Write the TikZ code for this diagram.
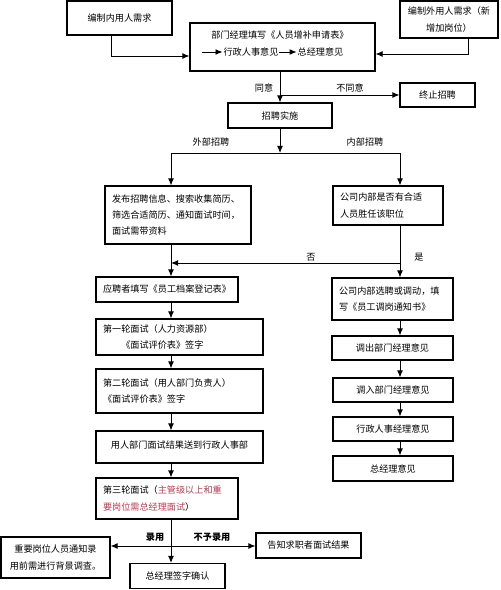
\documentclass[tikz,border=0pt]{standalone}
\usepackage{fontspec}
\setmainfont{Noto Sans CJK SC}
\usepackage{tikz}
\usetikzlibrary{arrows.meta}
\definecolor{noteRed}{RGB}{185,60,80}

\begin{document}
\begin{tikzpicture}[x=0.03cm, y=-0.03cm, >={Latex[length=6pt,width=5pt]}, line width=0.8pt,
    every node/.style={font=\fontsize{7.8pt}{14pt}\selectfont},
    box/.style n args={2}{draw, line width=0.9pt, inner xsep=7*\px, inner ysep=0pt,
      align=center, minimum width=#1*\px, minimum height=#2*\px},
    lbox/.style n args={2}{box={#1}{#2}, align=left, text width=(#1-14)*\px},
    lab/.style={inner sep=1pt}]
    \def \px {0.03cm} % one pixel of the 500x590 sheet
    \useasboundingbox (0,0) rectangle (500,590);

    % top row
    \node[box={105}{34}] (neizhi) at (119.5,18) {编制内用人需求};
    \node[box={98}{37}] (waizhi) at (449,19.5) {编制外用人需求（新\\增加岗位）};
    \node[box={185}{48}] (shenqing) at (282.5,47) {};
    \node[lab] (sqtext) at (280,35) {部门经理填写《人员增补申请表》};
    \node[inner sep=0.5pt] (xzyj) at (251,52) {行政人事意见};
    \node[inner sep=0.5pt] (zjyj) at (320.5,52) {总经理意见};
    \coordinate (sqin) at (202,52);
    \draw[->] (sqin) -- (xzyj);
    \draw[->] (xzyj) -- (zjyj);

    \draw[->] ([xshift=-8.5*\px]neizhi.south) |- ([yshift=-9*\px]shenqing.west);
    \draw[->] ([xshift=19*\px]waizhi.south) |- ([yshift=-7*\px]shenqing.east);

    \node[box={75}{24}] (zhongzhi) at (437.5,95) {终止招聘};
    \node[box={104}{25}] (zhaopin) at (280,115.5) {招聘实施};
    \coordinate (fork) at (280,95);
    \draw[->] (shenqing.south -| zhaopin.north) -- (zhaopin.north);
    \draw[->] (fork) -- (zhongzhi.west);
    \node[lab] at (264,88) {同意};
    \node[lab] at (350,88) {不同意};

    % two columns
    \coordinate (lx) at (171,0);
    \coordinate (rx) at (400,0);
    \coordinate (split) at (280,153);
    \node[lbox={146}{58}] (fabu) at (178,215)
      {发布招聘信息、搜索收集简历、\\筛选合适简历、通知面试时间，\\面试需带资料};
    \node[lbox={110}{39}] (neibu) at (388,205.5) {公司内部是否有合适\\人员胜任该职位};
    \draw[->] (zhaopin.south) -- (split);
    \draw[->] (split) -| (lx |- fabu.north);
    \draw[->] (split) -| (rx |- neibu.north);
    \node[lab] at (211,142) {外部招聘};
    \node[lab] at (365,142) {内部招聘};

    % external side
    \node[box={142}{25}] (yingpin) at (167,289.5) {应聘者填写《员工档案登记表》};
    \node[lbox={167}{36}] (diyi) at (179.5,337) {第一轮面试（人力资源部）\\\hspace*{2em}《面试评价表》签字};
    \node[lbox={167}{44}] (dier) at (179.5,391) {第二轮面试（用人部门负责人）\\《面试评价表》签字};
    \node[box={167}{32}, text depth=4pt] (jieguo) at (179.5,447) {用人部门面试结果送到行政人事部};
    \node[lbox={142}{41}] (disan) at (167,498.5)
      {第三轮面试（\textcolor{noteRed}{主管级以上和重}\\\textcolor{noteRed}{要岗位需总经理面试}）};

    % internal side
    \node[lbox={121}{42}] (xuanpin) at (392.5,299) {公司内部选聘或调动，填\\写《员工调岗通知书》};
    \node[box={121}{24}] (diaochu) at (392.5,348) {调出部门经理意见};
    \node[box={120}{24}] (diaoru) at (393,390) {调入部门经理意见};
    \node[box={120}{24}] (xingzheng) at (393,429) {行政人事经理意见};
    \node[box={120}{25}] (zongjl) at (393,468.5) {总经理意见};

    \draw[->] (lx |- fabu.south) -- (lx |- yingpin.north);
    \draw[->] (rx |- neibu.south) -- (rx |- xuanpin.north);
    \coordinate (fou) at (400,263);
    \draw[->] (fou) -- (lx |- fou);
    \node[lab] at (311,257) {否};
    \node[lab] at (419,257) {是};

    \foreach \a/\b in {yingpin/diyi, diyi/dier, dier/jieguo, jieguo/disan}
      \draw[->] (lx |- \a.south) -- (lx |- \b.north);
    \foreach \a/\b in {xuanpin/diaochu, diaochu/diaoru, diaoru/xingzheng, xingzheng/zongjl}
      \draw[->] (rx |- \a.south) -- (rx |- \b.north);

    % outcome
    \node[box={109}{41}] (beijing) at (55.5,557.5) {重要岗位人员通知录\\用前需进行背景调查。};
    \node[box={95}{25}] (qianzi) at (177.5,576) {总经理签字确认};
    \node[box={105}{25}] (gaozhi) at (308.5,545.5) {告知求职者面试结果};
    \coordinate (luyong) at (171,546);
    \draw[->] (lx |- disan.south) -- (lx |- qianzi.north);
    \draw[->] (luyong) -- (beijing.east |- luyong);
    \draw[->] (luyong) -- (gaozhi.west |- luyong);
    \node[lab, font=\fontsize{7.8pt}{14pt}\selectfont\bfseries] at (155,537) {录用};
    \node[lab, font=\fontsize{7.8pt}{14pt}\selectfont\bfseries] at (212,537) {不予录用};
\end{tikzpicture}
\end{document}
